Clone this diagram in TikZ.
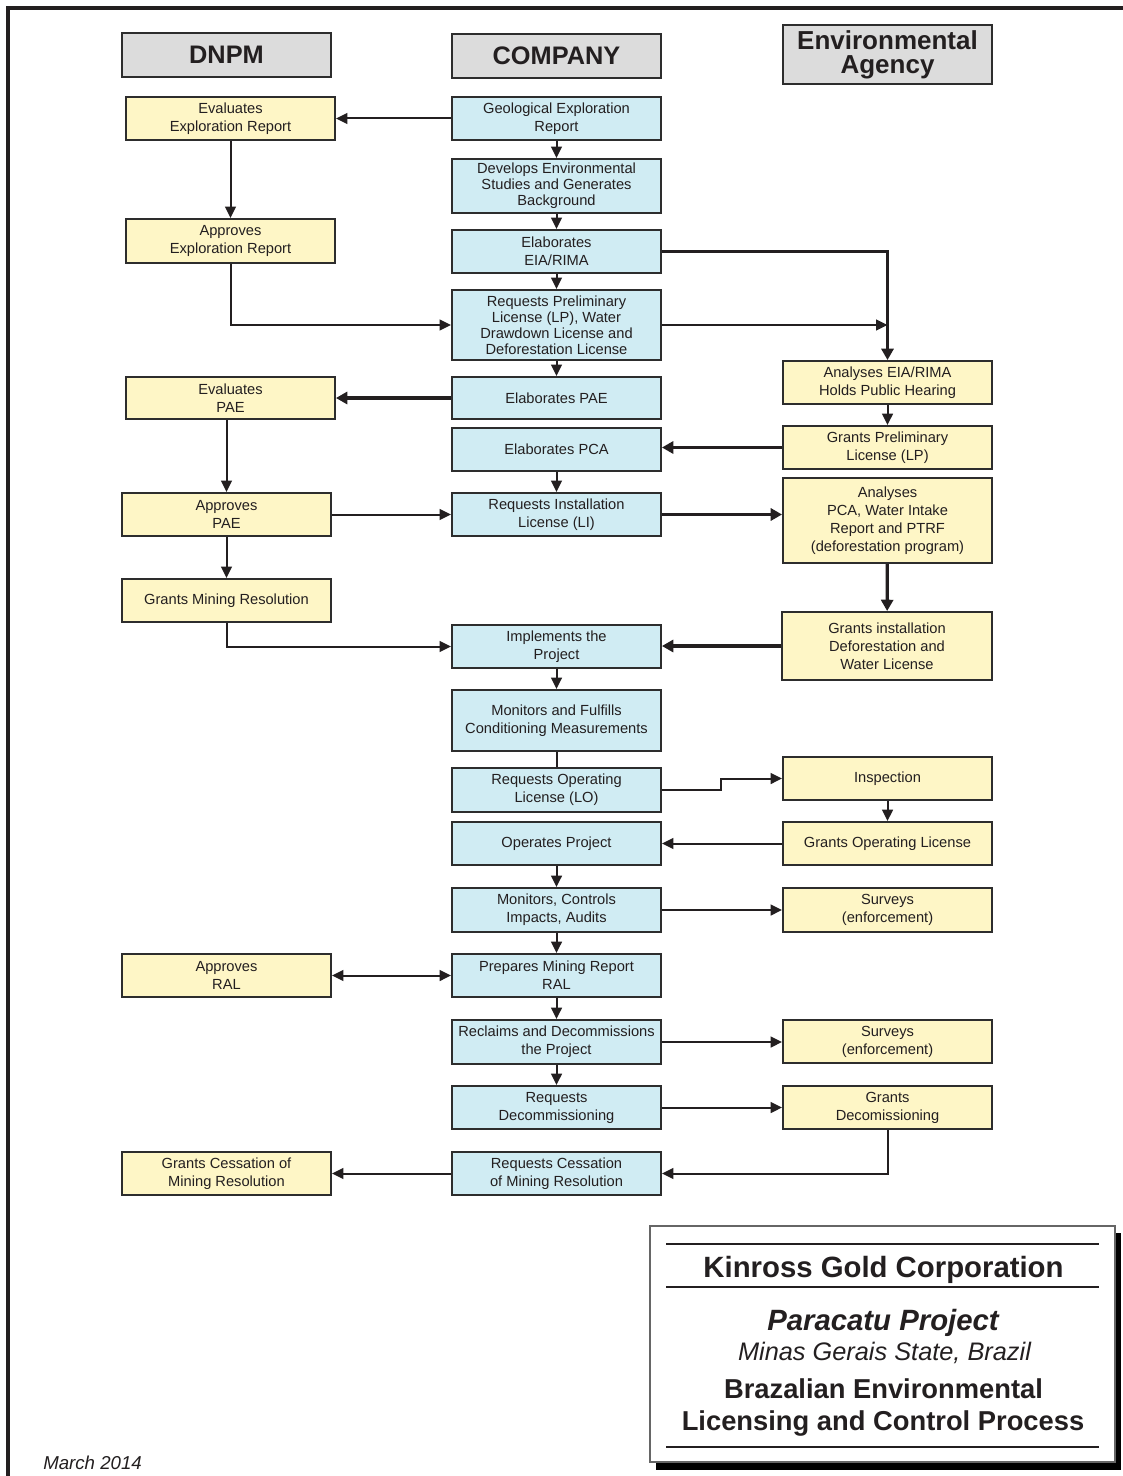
\documentclass[tikz,border=0pt]{standalone}
\usepackage{fontspec}
\setmainfont{Liberation Sans}
\usetikzlibrary{arrows.meta}
\definecolor{yel}{RGB}{254,246,198}
\definecolor{blu}{RGB}{208,236,243}
\definecolor{gry}{RGB}{220,220,220}
\definecolor{edgec}{RGB}{45,45,45}
\definecolor{txt}{RGB}{35,31,32}
\begin{document}
\begin{tikzpicture}[x=0.75pt,y=-0.75pt,
 box/.style={draw=edgec, line width=1.4pt, inner sep=0pt, align=center, text=txt, font=\fontsize{11}{13.5}\selectfont},
 ybox/.style={box, fill=yel},
 bbox/.style={box, fill=blu},
 hbox/.style={draw=edgec, line width=1.6pt, fill=gry, inner sep=0pt, align=center, text=txt},
 sz/.style 2 args={minimum width=#1*0.75pt, minimum height=#2*0.75pt},
 con/.style={draw=txt, line width=1.5pt, -{Triangle[length=8.5pt,width=8pt]}},
 dcon/.style={draw=txt, line width=1.5pt, {Triangle[length=8.5pt,width=8pt]}-{Triangle[length=8.5pt,width=8pt]}},
 tcon/.style={draw=txt, line width=2.4pt, -{Triangle[length=8.5pt,width=9pt]}},
 pline/.style={draw=txt, line width=1.5pt},
 tight/.style={font=\fontsize{11}{12}\selectfont},
]
\useasboundingbox (0,0) rectangle (1123,1476);
\fill[white] (0,0) rectangle (1123,1476);
% outer frame
\draw[line width=3pt, txt] (1123,8) -- (8,8) -- (8,1476);

% headers
\node[hbox, sz={209}{44}, font=\bfseries\fontsize{19}{20}\selectfont] (hD) at (226.5,55) {DNPM};
\node[hbox, sz={209}{44}, font=\bfseries\fontsize{19}{20}\selectfont] (hC) at (556.5,56) {COMPANY};
\node[hbox, sz={209}{59}, font=\bfseries\fontsize{19.5}{18}\selectfont] (hE) at (887.5,54.5) {Environmental\\Agency};

% company column
\node[bbox, sz={209}{43}] (c1) at (556.5,118.5) {Geological Exploration\\Report};
\node[bbox, sz={209}{54}, tight] (c2) at (556.5,186) {Develops Environmental\\Studies and Generates\\Background};
\node[bbox, sz={209}{43}] (c3) at (556.5,251.5) {Elaborates\\EIA/RIMA};
\node[bbox, sz={209}{70}, tight] (c4) at (556.5,325) {Requests Preliminary\\License (LP), Water\\Drawdown License and\\Deforestation License};
\node[bbox, sz={209}{42}] (c5) at (556.5,398) {Elaborates PAE};
\node[bbox, sz={209}{43}] (c6) at (556.5,449.5) {Elaborates PCA};
\node[bbox, sz={209}{43}] (c7) at (556.5,514.5) {Requests Installation\\License (LI)};
\node[bbox, sz={209}{43}] (c8) at (556.5,646.5) {Implements the\\Project};
\node[bbox, sz={209}{61}] (c9) at (556.5,720.5) {Monitors and Fulfills\\Conditioning Measurements};
\node[bbox, sz={209}{44}] (c10) at (556.5,790) {Requests Operating\\License (LO)};
\node[bbox, sz={209}{43}] (c11) at (556.5,843.5) {Operates Project};
\node[bbox, sz={209}{44}] (c12) at (556.5,910) {Monitors, Controls\\Impacts, Audits};
\node[bbox, sz={209}{43}] (c13) at (556.5,975.5) {Prepares Mining Report\\RAL};
\node[bbox, sz={209}{44}] (c14) at (556.5,1042) {Reclaims and Decommissions\\the Project};
\node[bbox, sz={209}{43}] (c15) at (556.5,1107.5) {Requests\\Decommissioning};
\node[bbox, sz={209}{43}] (c16) at (556.5,1173.5) {Requests Cessation\\of Mining Resolution};

% DNPM column
\node[ybox, sz={209}{43}] (d1) at (230.5,118.5) {Evaluates\\Exploration Report};
\node[ybox, sz={209}{44}] (d2) at (230.5,241) {Approves\\Exploration Report};
\node[ybox, sz={209}{42}] (d3) at (230.5,398) {Evaluates\\PAE};
\node[ybox, sz={209}{43}] (d4) at (226.5,514.5) {Approves\\PAE};
\node[ybox, sz={209}{43}] (d5) at (226.5,600.5) {Grants Mining Resolution};
\node[ybox, sz={209}{43}] (d6) at (226.5,975.5) {Approves\\RAL};
\node[ybox, sz={209}{43}] (d7) at (226.5,1173.5) {Grants Cessation of\\Mining Resolution};

% Environmental agency column
\node[ybox, sz={209}{43}] (e1) at (887.5,382.5) {Analyses EIA/RIMA\\Holds Public Hearing};
\node[ybox, sz={209}{43}] (e2) at (887.5,447.5) {Grants Preliminary\\License (LP)};
\node[ybox, sz={209}{85}] (e3) at (887.5,520.5) {Analyses\\PCA, Water Intake\\Report and PTRF\\(deforestation program)};
\node[ybox, sz={210}{68}] (e4) at (887,646) {Grants installation\\Deforestation and\\Water License};
\node[ybox, sz={209}{43}] (e5) at (887.5,778.5) {Inspection};
\node[ybox, sz={209}{43}] (e6) at (887.5,843.5) {Grants Operating License};
\node[ybox, sz={209}{44}] (e7) at (887.5,910) {Surveys\\(enforcement)};
\node[ybox, sz={209}{43}] (e8) at (887.5,1041.5) {Surveys\\(enforcement)};
\node[ybox, sz={209}{43}] (e9) at (887.5,1107.5) {Grants\\Decomissioning};

% connectors
\draw[con] (c1.west) -- (d1.east);
\draw[con] (d1) -- (d2);
\draw[con] (c1) -- (c2);
\draw[con] (c2) -- (c3);
\draw[con] (c3) -- (c4);
\draw[tcon] (c3.east) -| (e1.north);
\draw[con] (d2.south) |- (c4.west);
\draw[con] (c4.east) -- (c4.east -| e1.north);
\draw[con] (c4) -- (c5);
\draw[tcon] (c5.west) -- (d3.east);
\draw[con] (d4.north |- d3.south) -- (d4.north);
\draw[con] (e1) -- (e2);
\draw[tcon] (e2.west) -- (e2.west -| c6.east);
\draw[con] (c6) -- (c7);
\draw[con] (d4.east) -- (d4.east -| c7.west);
\draw[tcon] (c7.east) -- (c7.east -| e3.west);
\draw[tcon] (e3) -- (e4);
\draw[tcon] (e4.west) -- (e4.west -| c8.east);
\draw[con] (d4) -- (d5);
\draw[con] (d5.south) |- (c8.west);
\draw[con] (c8) -- (c9);
\draw[pline] (c9) -- (c10);
\draw[con] (c10.east) -- ++(59,0) |- (e5.west);
\draw[con] (e5) -- (e6);
\draw[con] (e6.west) -- (c11.east);
\draw[con] (c11) -- (c12);
\draw[con] (c12.east) -- (e7.west);
\draw[con] (c12) -- (c13);
\draw[dcon] (c13.west) -- (d6.east);
\draw[con] (c13) -- (c14);
\draw[con] (c14.east) -- (c14.east -| e8.west);
\draw[con] (c14) -- (c15);
\draw[con] (c15.east) -- (e9.west);
\draw[con] (e9.south) |- (c16.east);
\draw[con] (c16.west) -- (d7.east);

% title block
\fill[black] (656,1233) rectangle (1121,1470);
\draw[fill=white, draw=black!60, line width=1pt] (650,1226) rectangle (1115,1462);
\draw[line width=2.2pt, txt] (666,1244) -- (1099,1244);
\draw[line width=2.2pt, txt] (666,1287) -- (1099,1287);
\draw[line width=2.2pt, txt] (666,1447) -- (1099,1447);
\node[anchor=base, text=txt, font=\bfseries\fontsize{22}{24}\selectfont] (t1) at (883.5,1277) {Kinross Gold Corporation};
\node[anchor=base, text=txt, font=\bfseries\itshape\fontsize{22}{24}\selectfont] (t2) at (883,1330) {Paracatu Project};
\node[anchor=base, text=txt, font=\itshape\fontsize{19}{21}\selectfont] (t3) at (884.5,1360) {Minas Gerais State, Brazil};
\node[anchor=base, text=txt, font=\bfseries\fontsize{20.5}{22}\selectfont] (t4) at (883.5,1398) {Brazalian Environmental};
\node[anchor=base, text=txt, font=\bfseries\fontsize{20.5}{22}\selectfont] (t5) at (883,1430) {Licensing and Control Process};
\node[anchor=base west, inner sep=0pt, text=txt, font=\itshape\fontsize{14}{16}\selectfont] (date) at (43,1469) {March 2014};
\end{tikzpicture}
\end{document}
